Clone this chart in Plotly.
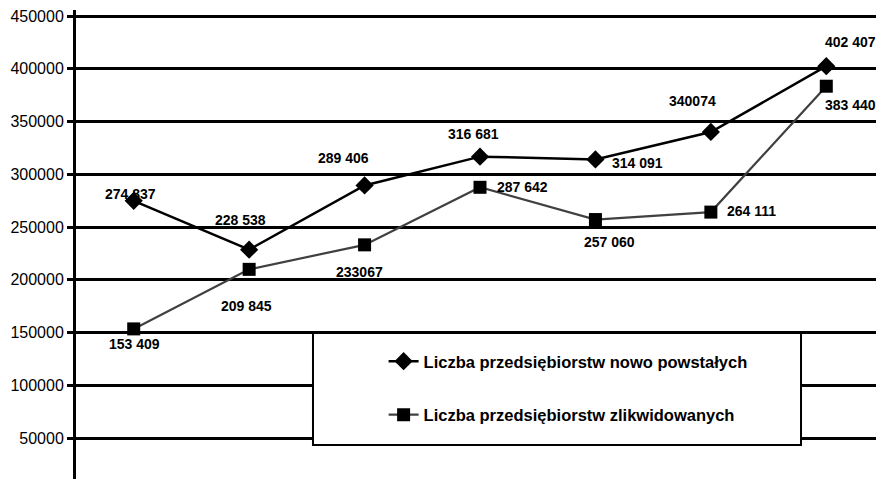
import plotly.graph_objects as go

# Data
points = [1, 2, 3, 4, 5, 6, 7]
new_firms = [274837, 228538, 289406, 316681, 314091, 340074, 402407]
closed_firms = [153409, 209845, 233067, 287642, 257060, 264111, 383440]
new_labels = ["274 837", "228 538", "289 406", "316 681", "314 091", "340074", "402 407"]
closed_labels = ["153 409", "209 845", "233067", "287 642", "257 060", "264 111", "383 440"]
series_names = ["Liczba przedsiębiorstw nowo powstałych", "Liczba przedsiębiorstw zlikwidowanych"]
y_ticks = [50000, 100000, 150000, 200000, 250000, 300000, 350000, 400000, 450000]

# Label pixel offsets (dx right, dy down)
new_off = [(-3, -7), (-9, -30), (-21, -27), (-7, -23), (42, 4), (-18, -31), (24, -24)]
closed_off = [(1, 15), (-3, 37), (-5, 27), (42, 0), (14, 22), (41, -1), (24, 19)]

fig = go.Figure()
fig.add_trace(go.Scatter(
    x=points, y=new_firms, name=series_names[0], mode="lines+markers",
    line=dict(color="#000000", width=2.5),
    marker=dict(symbol="diamond", size=14, color="#000000"),
    legendgroup="a",
))
fig.add_trace(go.Scatter(
    x=points, y=closed_firms, name=series_names[1], mode="lines+markers",
    line=dict(color="#404040", width=2.2),
    marker=dict(symbol="square", size=13, color="#000000"),
    legendgroup="b",
))

label_font = dict(family="Liberation Sans, Arial, sans-serif", size=14, color="#000000")
annotations = []
for xs, ys, labs, offs in [(points, new_firms, new_labels, new_off),
                           (points, closed_firms, closed_labels, closed_off)]:
    for xv, yv, lab, (dx, dy) in zip(xs, ys, labs, offs):
        annotations.append(dict(
            x=xv, y=yv, text="<b>" + lab + "</b>", showarrow=False,
            xshift=dx, yshift=-dy, font=label_font,
            xanchor="center", yanchor="middle",
        ))

fig.update_layout(
    width=884, height=479,
    margin=dict(l=68, r=8, t=2, b=0, autoexpand=False),
    paper_bgcolor="white", plot_bgcolor="white",
    showlegend=True,
    legend=dict(
        x=0.3807, y=0.2998, xanchor="left", yanchor="top",
        bgcolor="rgba(0,0,0,0)", borderwidth=0,
        font=dict(family="Liberation Sans, Arial, sans-serif", size=16.5, color="#000000"),
        tracegroupgap=29, traceorder="grouped",
    ),
    annotations=annotations,
    shapes=[dict(
        type="rect", xref="paper", yref="paper",
        x0=0.2933, x1=0.8973, y0=0.0881, y1=0.3229,
        line=dict(color="#000000", width=2), fillcolor="white", layer="above",
    )],
    font=dict(family="Liberation Sans, Arial, sans-serif", size=16, color="#000000"),
)
fig.update_xaxes(
    range=[0.5, 7.5], showticklabels=False, showgrid=False, zeroline=False,
    showline=False, ticks="", automargin=False,
)
fig.update_yaxes(
    range=[3555, 455687], tickvals=y_ticks, ticktext=[str(v) for v in y_ticks],
    showgrid=True, gridcolor="#000000", gridwidth=3,
    showline=True, linecolor="#000000", linewidth=3,
    ticks="outside", ticklen=6, tickwidth=3, tickcolor="#000000",
    zeroline=False, tickfont=dict(size=16), automargin=False,
    ticklabeloverflow="allow",
)

# legend names bold
for tr in fig.data:
    tr.name = "<b>" + tr.name + "</b>"

fig.write_html("out.html")
